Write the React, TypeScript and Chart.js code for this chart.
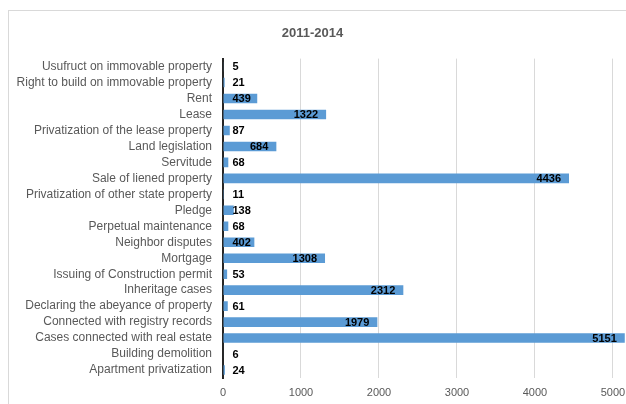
import React, { useEffect, useRef } from "react";
import { Chart, registerables } from "chart.js";

Chart.register(...registerables);

const chartTitle = "2011-2014";
const categories = [
  "Usufruct on immovable property",
  "Right to build on immovable property",
  "Rent",
  "Lease",
  "Privatization of the lease property",
  "Land legislation",
  "Servitude",
  "Sale of liened property",
  "Privatization of other state property",
  "Pledge",
  "Perpetual maintenance",
  "Neighbor disputes",
  "Mortgage",
  "Issuing of Construction permit",
  "Inheritage cases",
  "Declaring the abeyance of property",
  "Connected with registry records",
  "Cases connected with real estate",
  "Building demolition",
  "Apartment privatization",
];
const values = [5, 21, 439, 1322, 87, 684, 68, 4436, 11, 138, 68, 402, 1308, 53, 2312, 61, 1979, 5151, 6, 24];
const xTicks = [0, 1000, 2000, 3000, 4000, 5000];
const xMin = 0;
const xMax = 5154;

const FONT = "'Liberation Sans', Arial, sans-serif";

const frameAndLabels = {
  id: "frameAndLabels",
  beforeDraw(chart: any) {
    const ctx = chart.ctx;
    ctx.save();
    ctx.fillStyle = "#ffffff";
    ctx.fillRect(0, 0, chart.width, chart.height);
    ctx.strokeStyle = "#d9d9d9";
    ctx.lineWidth = 1;
    ctx.strokeRect(8.5, 10.5, chart.width + 20, chart.height + 20);
    ctx.restore();
  },
  afterDatasetsDraw(chart: any) {
    const ctx = chart.ctx;
    const meta = chart.getDatasetMeta(0);
    ctx.save();
    ctx.font = `bold 11px ${FONT}`;
    ctx.fillStyle = "#000000";
    ctx.textBaseline = "middle";
    meta.data.forEach((bar: any, i: number) => {
      const txt = String(values[i]);
      const w = ctx.measureText(txt).width;
      const base = bar.base;
      let left = bar.x - 8 - w;
      if (left < base + 9) left = base + 9;
      ctx.textAlign = "left";
      ctx.fillText(txt, left, bar.y + 0.5);
    });
    ctx.restore();
  },
};

export default function App() {
  const ref = useRef<HTMLCanvasElement | null>(null);
  useEffect(() => {
    if (!ref.current) return;
    const chart = new Chart(ref.current, {
      type: "bar",
      data: {
        labels: categories,
        datasets: [
          {
            data: values,
            backgroundColor: "#5b9bd5",
            borderWidth: 0,
            categoryPercentage: 1,
            barPercentage: 0.6,
          },
        ],
      },
      options: {
        indexAxis: "y",
        animation: false,
        responsive: true,
        maintainAspectRatio: false,
        layout: { padding: { left: 0, right: 1, top: 0, bottom: 0 } },
        plugins: {
          legend: { display: false },
          tooltip: { enabled: false },
          title: {
            display: true,
            text: chartTitle,
            color: "#595959",
            font: { family: FONT, size: 13, weight: "bold" },
            padding: { top: 26, bottom: 17 },
          },
        },
        scales: {
          x: {
            min: xMin,
            max: xMax,
            grid: { color: "#d9d9d9", drawTicks: false },
            border: { display: false },
            afterBuildTicks: (s: any) => {
              s.ticks = xTicks.map((v) => ({ value: v }));
            },
            ticks: {
              color: "#595959",
              font: { family: FONT, size: 11 },
              padding: 8,
              maxRotation: 0,
              autoSkip: false,
              callback: (v: any) => String(v),
            },
            afterFit: (s: any) => {
              s.height = 26;
              s.paddingRight = 0;
              s.paddingLeft = 0;
            },
          },
          y: {
            grid: { display: false, drawTicks: false },
            border: { display: true, color: "#262626", width: 2 },
            ticks: {
              color: "#595959",
              font: { family: FONT, size: 12 },
              padding: 11,
              autoSkip: false,
            },
            afterFit: (s: any) => {
              s.width = 223;
            },
          },
        },
      },
      plugins: [frameAndLabels],
    });
    return () => chart.destroy();
  }, []);
  return (
    <div style={{ position: "fixed", left: 0, top: 0, width: 626, height: 404 }}>
      <canvas ref={ref} />
    </div>
  );
}
